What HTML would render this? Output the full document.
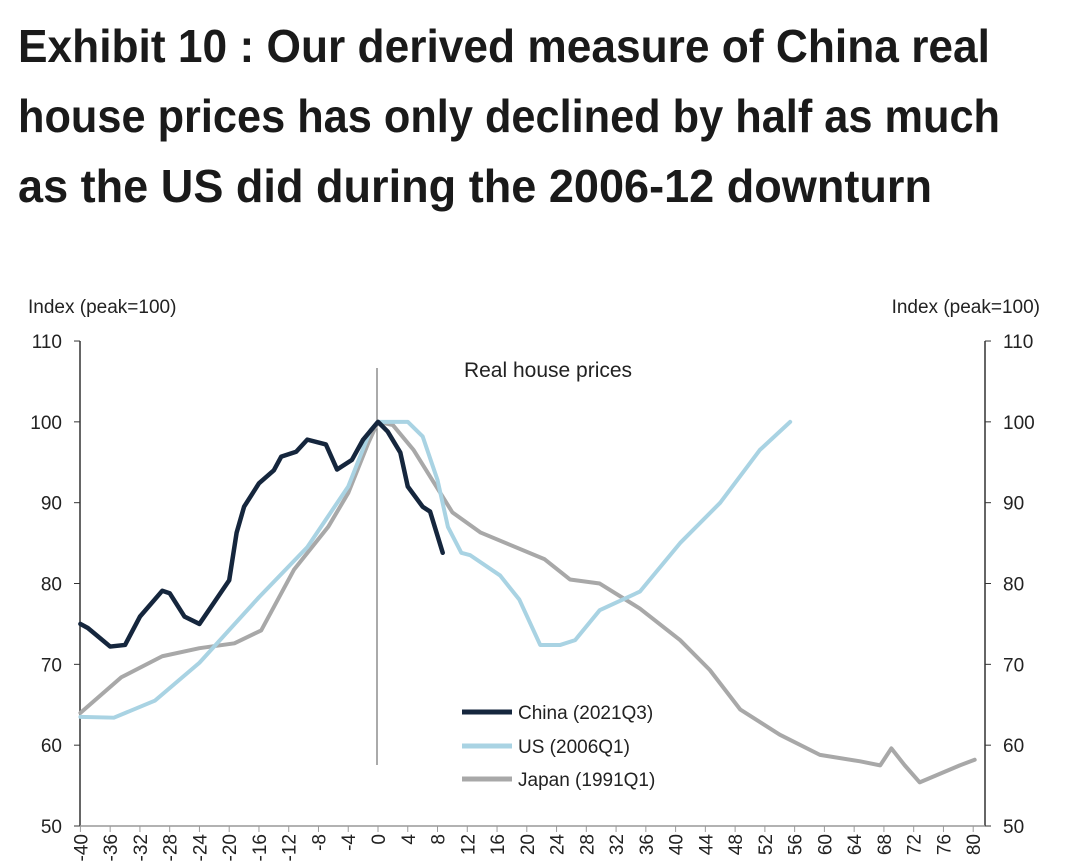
<!DOCTYPE html>
<html><head><meta charset="utf-8"><style>body{margin:0;background:#fff}svg{display:block}</style></head>
<body>
<svg id="c" width="1080" height="863" viewBox="0 0 1080 863" xmlns="http://www.w3.org/2000/svg" font-family="Liberation Sans, sans-serif">
<g font-weight="bold" font-size="46" fill="#1a1a1a">
<text x="18" y="62" textLength="972" lengthAdjust="spacingAndGlyphs">Exhibit 10 : Our derived measure of China real</text>
<text x="18" y="132" textLength="982" lengthAdjust="spacingAndGlyphs">house prices has only declined by half as much</text>
<text x="18" y="202" textLength="914" lengthAdjust="spacingAndGlyphs">as the US did during the 2006-12 downturn</text>
</g>
<text x="28" y="313" font-size="19" fill="#222">Index (peak=100)</text>
<text x="1040" y="313" font-size="19" fill="#222" text-anchor="end">Index (peak=100)</text>
<text x="548" y="377" font-size="21" fill="#222" text-anchor="middle">Real house prices</text>
<g id="axes"></g><g id="series"></g>
<g font-size="19" fill="#222">
<line x1="462" y1="712" x2="512" y2="712" stroke="#15263d" stroke-width="5"/>
<text x="518" y="719">China (2021Q3)</text>
<line x1="462" y1="746" x2="512" y2="746" stroke="#a9d3e3" stroke-width="5"/>
<text x="518" y="753">US (2006Q1)</text>
<line x1="462" y1="779" x2="512" y2="779" stroke="#a8a8a8" stroke-width="5"/>
<text x="518" y="786">Japan (1991Q1)</text>
</g>
</svg>
<script>
const yTicks=[50,60,70,80,90,100,110];
const xTicks=[-40,-36,-32,-28,-24,-20,-16,-12,-8,-4,0,4,8,12,16,20,24,28,32,36,40,44,48,52,56,60,64,68,72,76,80];
const chinaQ=[-40,-39,-36,-34,-32,-29,-28,-26,-24,-22,-20,-19,-18,-16,-14,-13,-11,-9.5,-7,-5.5,-3.5,-2,0,1.3,3,4,6,7,8.7];
const chinaV=[75,74.5,72.2,72.4,75.9,79.1,78.8,75.9,75,77.7,80.4,86.3,89.5,92.4,94,95.7,96.3,97.8,97.2,94.1,95.3,97.8,100,98.8,96.2,92,89.5,88.9,83.8];
const usQ=[-40,-35.5,-30,-24,-16,-9.5,-4,-1,0,4,6,8,9.4,11.2,12.4,16.4,19,21.8,24.5,26.5,29.8,35.2,40.6,46,51.3,55.4];
const usV=[63.5,63.4,65.5,70.2,78.3,84.5,92,99,100,100,98.2,92.8,87,83.8,83.5,81,78,72.4,72.4,73,76.7,79,85,90,96.5,100];
const jpQ=[-40,-34.5,-29,-24,-19.3,-15.7,-11.3,-6.7,-4,-1.3,0,2,4.8,10,13.8,17.7,22.4,25.8,29.8,35.2,40.6,44.6,48.7,54,59.4,64.8,67.5,69,70.8,72.8,78.2,80.2];
const jpV=[64,68.4,71,72,72.6,74.2,81.7,87,91.2,97.4,100,99.6,96.5,88.8,86.3,84.8,83,80.5,80,76.9,73,69.3,64.4,61.3,58.8,58,57.5,59.6,57.5,55.4,57.5,58.2];
const NS='http://www.w3.org/2000/svg';
const X=q=>378+7.44*q, Y=v=>826-(v-50)*8.083;
function mk(t,a,p){const e=document.createElementNS(NS,t);for(const k in a)e.setAttribute(k,a[k]);p.appendChild(e);return e;}
const ax=document.getElementById('axes'),se=document.getElementById('series');
let e=mk('line',{x1:80,y1:Y(110),x2:80,y2:Y(50),stroke:'#333','stroke-width':1.5},ax);


e=mk('line',{x1:985,y1:Y(110),x2:985,y2:Y(50),stroke:'#333','stroke-width':1.5},ax);


e=mk('line',{x1:80,y1:Y(50),x2:985,y2:Y(50),stroke:'#999','stroke-width':1.5},ax);


e=mk('line',{x1:377,y1:368,x2:377,y2:765,stroke:'#555','stroke-width':1},ax);


yTicks.forEach(v=>{
 mk('line',{x1:74,x2:80,y1:Y(v),y2:Y(v),stroke:'#333'},ax);
 mk('line',{x1:985,x2:991,y1:Y(v),y2:Y(v),stroke:'#333'},ax);
 let t=mk('text',{x:62,y:Y(v)+7,'font-size':19,'text-anchor':'end',fill:'#222'},ax);t.textContent=v;
 
 
 t=mk('text',{x:1003,y:Y(v)+7,'font-size':19,fill:'#222'},ax);t.textContent=v;
 
 
});
xTicks.forEach(q=>{
 mk('line',{x1:X(q),x2:X(q),y1:Y(50),y2:Y(50)+6,stroke:'#999'},ax);
 const t=mk('text',{x:0,y:0,'font-size':19,'text-anchor':'end',fill:'#222',transform:`translate(${X(q)+7},${Y(50)+8}) rotate(-90)`},ax);
 t.textContent=q;
 
 
});
function line(qs,vs,col,w,name){
 const p=mk('polyline',{points:qs.map((q,i)=>X(q)+','+Y(vs[i])).join(' '),fill:'none',stroke:col,'stroke-width':w,'stroke-linejoin':'round','stroke-linecap':'round'},se);
 
 
}
line(jpQ,jpV,'#a8a8a8',4,'japan-line');
line(usQ,usV,'#a9d3e3',4,'us-line');
line(chinaQ,chinaV,'#15263d',4.5,'china-line');
</script>
</body></html>
